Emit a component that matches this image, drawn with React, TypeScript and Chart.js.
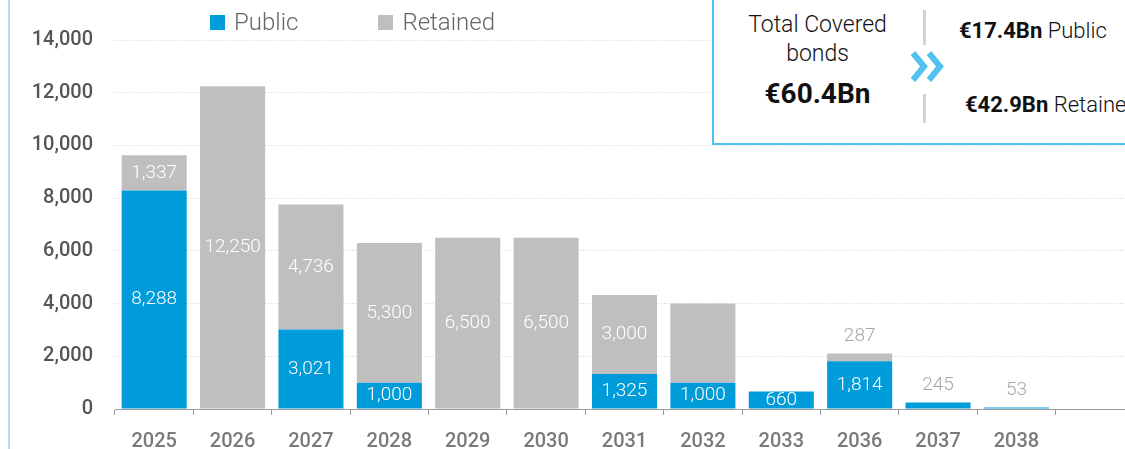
import React, { useEffect, useRef } from 'react';
import { Chart, registerables } from 'chart.js';

Chart.register(...registerables);

const categories = ['2025', '2026', '2027', '2028', '2029', '2030', '2031', '2032', '2033', '2036', '2037', '2038', ''];
const seriesNames = ['Public', 'Retained'];
const publicValues = [8288, 0, 3021, 1000, 0, 0, 1325, 1000, 660, 1814, 245, 53, null];
const retainedValues = [1337, 12250, 4736, 5300, 6500, 6500, 3000, 3000, 0, 287, 0, 0, null];
const seriesColors = ['#009bd9', '#bfbfbf'];
// labels not printed in the source picture (series index, category)
const unlabeled = [[1, '2032']];
const yMax = 14000;
const yStep = 2000;

const summaryTitle = ['Total Covered', 'bonds'];
const summaryTotal = '€60.4Bn';
const summaryPublic = ['€17.4Bn', 'Public'];
const summaryRetained = ['€42.9Bn', 'Retained'];

const fmt = (v: number) => v.toLocaleString('en-US');

const labelPlugin = {
  id: 'barLabels',
  afterDatasetsDraw(chart: any) {
    const ctx = chart.ctx;
    ctx.save();
    ctx.font = '300 19px Roboto';
    ctx.textAlign = 'center';
    ctx.textBaseline = 'middle';
    const nCat = categories.length;
    for (let i = 0; i < nCat; i++) {
      let top = Infinity;
      chart.data.datasets.forEach((_: any, d: number) => {
        const el = chart.getDatasetMeta(d).data[i];
        if (el && el.y != null && !isNaN(el.y)) top = Math.min(top, el.y);
      });
      chart.data.datasets.forEach((ds: any, d: number) => {
        const v = ds.data[i];
        if (v == null || v === 0) return;
        if (unlabeled.some(([s, c]) => s === d && c === categories[i])) return;
        const el = chart.getDatasetMeta(d).data[i];
        if (v >= 500) {
          ctx.fillStyle = '#ffffff';
          ctx.fillText(fmt(v), el.x, (el.y + el.base) / 2);
        } else {
          ctx.fillStyle = '#a6a6a6';
          ctx.fillText(fmt(v), el.x, top - 17);
        }
      });
    }
    ctx.restore();
  },
};

export default function App() {
  const canvasRef = useRef<HTMLCanvasElement | null>(null);

  useEffect(() => {
    document.body.style.margin = '0';
    const canvas = canvasRef.current;
    if (!canvas) return;
    const chart = new Chart(canvas, {
      type: 'bar',
      data: {
        labels: categories,
        datasets: [
          { label: seriesNames[0], data: publicValues, backgroundColor: seriesColors[0] },
          { label: seriesNames[1], data: retainedValues, backgroundColor: seriesColors[1] },
        ],
      },
      options: {
        responsive: false,
        animation: false,
        devicePixelRatio: 1,
        layout: { padding: { top: 40, left: 0, right: 0, bottom: 0 } },
        datasets: { bar: { barPercentage: 0.83, categoryPercentage: 1 } },
        plugins: { legend: { display: false }, tooltip: { enabled: false } },
        scales: {
          x: {
            stacked: true,
            grid: { drawOnChartArea: false, drawTicks: true, tickLength: 6, color: '#9a9a9a', offset: true },
            border: { display: true, color: '#9a9a9a', width: 1 },
            ticks: { color: '#7a7a7a', font: { family: 'Roboto', size: 20, weight: '500' }, padding: 15, maxRotation: 0 },
            afterFit: (s: any) => { s.height = 40; },
          },
          y: {
            stacked: true,
            min: 0,
            max: yMax,
            ticks: {
              stepSize: yStep,
              color: '#555555',
              font: { family: 'Roboto', size: 20, weight: '500' },
              padding: 22,
              callback: (v: any) => fmt(Number(v)),
            },
            grid: { drawTicks: false, color: '#d4d4d4', lineWidth: 1 },
            border: { display: false, dash: [1, 2] },
            afterFit: (s: any) => { s.width = 115; },
          },
        },
      },
      plugins: [labelPlugin],
    });
    return () => chart.destroy();
  }, []);

  return (
    <div style={{ position: 'relative', width: 1125, height: 449, overflow: 'hidden', background: '#fff', fontFamily: 'Roboto' }}>
      <canvas ref={canvasRef} width={1134} height={449} style={{ position: 'absolute', left: 0, top: 0, width: 1134, height: 449 }} />
      <div style={{ position: 'absolute', left: 8, top: 0, width: 2, height: 449, background: '#a9e0f5' }} />
      <div style={{ position: 'absolute', left: 210, top: 6, display: 'flex', alignItems: 'center', color: '#666', fontSize: 24, fontWeight: 300, lineHeight: '32px' }}>
        {seriesNames.map((n, i) => (
          <div key={n} style={{ display: 'flex', alignItems: 'center', marginRight: i === 0 ? 80 : 0 }}>
            <span style={{ display: 'inline-block', width: 15, height: 15, background: seriesColors[i], marginRight: 9 }} />
            <span>{n}</span>
          </div>
        ))}
      </div>
      <div style={{ position: 'absolute', left: 712, top: -2, width: 500, height: 147, border: '2px solid #4fc3f0', background: '#fff', boxSizing: 'border-box', color: '#111' }}>
        <div style={{ position: 'absolute', left: 0, top: 10, width: 207, textAlign: 'center', fontSize: 23, fontWeight: 300, lineHeight: '29px' }}>
          {summaryTitle[0]}<br />{summaryTitle[1]}
        </div>
        <div style={{ position: 'absolute', left: 0, top: 76, width: 207, textAlign: 'center', fontSize: 28, fontWeight: 700, lineHeight: '36px' }}>
          {summaryTotal}
        </div>
        <div style={{ position: 'absolute', left: 209, top: 10, width: 3, height: 35, background: '#d3d3d3' }} />
        <div style={{ position: 'absolute', left: 209, top: 94, width: 3, height: 29, background: '#d3d3d3' }} />
        <svg style={{ position: 'absolute', left: 196, top: 50 }} width={36} height={33}>
          <polyline points="3,3 14,16.5 3,30" fill="none" stroke="#4fc3f0" strokeWidth={6} />
          <polyline points="19,3 30,16.5 19,30" fill="none" stroke="#4fc3f0" strokeWidth={6} />
        </svg>
        <div style={{ position: 'absolute', left: 245, top: 18, fontSize: 22, lineHeight: '26px', whiteSpace: 'nowrap' }}>
          <b>{summaryPublic[0]}</b> <span style={{ fontWeight: 300 }}>{summaryPublic[1]}</span>
        </div>
        <div style={{ position: 'absolute', left: 251, top: 92, fontSize: 22, lineHeight: '26px', whiteSpace: 'nowrap' }}>
          <b>{summaryRetained[0]}</b> <span style={{ fontWeight: 300 }}>{summaryRetained[1]}</span>
        </div>
      </div>
    </div>
  );
}
